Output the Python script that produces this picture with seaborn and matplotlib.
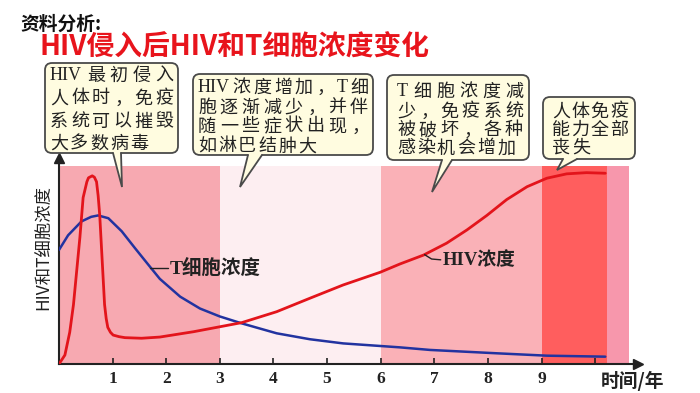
import re
import pandas as pd
import matplotlib
matplotlib.use("Agg")
import matplotlib.pyplot as plt
from matplotlib.patches import FancyBboxPatch, Polygon
import seaborn as sns

# === 1. Values ===
hiv_years = [0, 0.11, 0.2, 0.27, 0.33, 0.39, 0.45, 0.52, 0.55, 0.62, 0.66, 0.70, 0.73,
             0.76, 0.81, 0.85, 0.88, 0.91, 0.96, 1.01, 1.12, 1.23, 1.54, 1.88, 2.51, 3.0,
             3.41, 4.06, 4.68, 5.3, 5.99, 6.36, 6.8, 7.23, 7.61, 7.98, 8.35, 8.73, 9.1,
             9.47, 9.84, 10.19]
hiv_level = [0, 4.5, 16, 30, 47, 64, 84, 92, 94, 95, 94.3, 92, 85,
             75, 50, 30, 23, 18.5, 16, 14.6, 13.8, 13.3, 13, 13.6, 16.3, 18.8,
             20.9, 26.4, 33.2, 39.9, 46.3, 50.5, 55, 61, 67.7, 75, 83, 89.5, 93.8,
             96, 96.6, 96.3]

tcell_years = [0, 0.17, 0.42, 0.6, 0.73, 0.92, 1.17, 1.42, 1.67, 1.88, 2.26, 2.63, 3.0,
               3.41, 4.06, 4.68, 5.3, 5.99, 6.36, 6.92, 8.17, 9.1, 10.19]
tcell_level = [57.6, 65, 72, 74.3, 75, 73.6, 67, 58.4, 50, 43, 34, 28, 24,
               20.5, 15.5, 12.5, 10.4, 9.1, 8.4, 7.1, 5.4, 4.2, 3.7]

stage_edges = [0, 3, 6, 9, 10.22, 10.63]
stage_colors = ["#F7A9B1", "#FDEEF1", "#FAB1B7", "#FF5E5E", "#F797AC"]

tick_years = [1, 2, 3, 4, 5, 6, 7, 8, 9, 10]
tick_labels = ["1", "2", "3", "4", "5", "6", "7", "8", "9", ""]

callout_texts = [
    ["HIV最初侵入", "人体时，免疫", "系统可以摧毁", "大多数病毒"],
    ["HIV浓度增加，T细", "胞逐渐减少，并伴", "随一些症状出现，", "如淋巴结肿大"],
    ["T细胞浓度减", "少，免疫系统", "被破坏，各种", "感染机会增加"],
    ["人体免疫", "能力全部", "丧失"],
]

# callout layout in figure pixels: box, pointer base, pointer tip, text left/right, line y's
callout_layout = [
    dict(box=(45, 63, 178, 153), base=(113, 121), tip=(122, 187), tx=50, rx=173,
         ly=[76, 99, 122, 144]),
    dict(box=(193, 74, 373, 155), base=(248, 262), tip=(240, 187), tx=198, rx=368,
         ly=[88, 108, 127, 147]),
    dict(box=(387, 75, 529, 160), base=(442, 452), tip=(432, 192), tx=397, rx=523,
         ly=[92, 112, 131, 149]),
    dict(box=(543, 97, 635, 159), base=(563, 577), tip=(557, 170), tx=552, rx=628,
         ly=[112, 130, 148]),
]

RED = "#E3141B"
BLUE = "#2233A0"
INK = "#222222"
CJK = ["Noto Sans CJK SC", "DejaVu Sans"]
SERIF_CJK = ["Liberation Serif", "Noto Sans CJK SC", "DejaVu Sans"]

# === 2. Figure ===
sns.set_theme(style="white")
plt.rcParams["font.family"] = CJK

fig = plt.figure(figsize=(7, 3.93), dpi=100)
W, H = 700, 393
ax_left, ax_right, ax_bottom, ax_top = 59, 638, 364, 158
ax = fig.add_axes([ax_left / W, 1 - ax_bottom / H,
                   (ax_right - ax_left) / W, (ax_bottom - ax_top) / H])
ax.set_xlim(0, 10.8)
ax.set_ylim(0, 104)

# stage shading
for x0, x1, c in zip(stage_edges[:-1], stage_edges[1:], stage_colors):
    ax.axvspan(x0, x1, ymin=0, ymax=100 / 104, color=c, lw=0, zorder=0)

hiv_df = pd.DataFrame({"year": hiv_years, "level": hiv_level})
tcell_df = pd.DataFrame({"year": tcell_years, "level": tcell_level})
sns.lineplot(data=tcell_df, x="year", y="level", ax=ax, color=BLUE, lw=1.8,
             estimator=None, sort=False, zorder=3)
sns.lineplot(data=hiv_df, x="year", y="level", ax=ax, color=RED, lw=2.0,
             estimator=None, sort=False, zorder=4)

# curve labels with short leader lines
ax.plot([1.70, 2.04], [48.5, 48.5], color=INK, lw=1.0, zorder=5)
ax.text(2.06, 48.5, "T细胞浓度", family=SERIF_CJK, fontsize=14, fontweight="bold",
        color=INK, ha="left", va="center", zorder=5)
ax.plot([6.82, 6.95, 7.12], [55.2, 53.0, 52.6], color=INK, lw=1.0, zorder=5)
ax.text(7.15, 52.3, "HIV浓度", family=SERIF_CJK, fontsize=13.5, fontweight="bold",
        color=INK, ha="left", va="center", zorder=5)

# axes: only left and bottom, with arrow heads
for s in ["top", "right"]:
    ax.spines[s].set_visible(False)
for s in ["left", "bottom"]:
    ax.spines[s].set_color(INK)
    ax.spines[s].set_linewidth(1.5)
ax.plot(1, 0, ">", color=INK, ms=7, transform=ax.transAxes, clip_on=False)
ax.plot(0, 1, "^", color=INK, ms=7, transform=ax.transAxes, clip_on=False)

ax.set_xticks(tick_years)
ax.set_xticklabels(tick_labels, family="Liberation Serif", fontweight="bold", fontsize=12.5)
ax.set_yticks([])
ax.tick_params(axis="x", direction="in", length=4, width=1.2, color=INK, pad=5,
               labelcolor=INK, bottom=True)
ax.set_xlabel("")
ax.set_ylabel("")

# === 3. Overlay in pixel units for titles and callouts ===
ov = fig.add_axes([0, 0, 1, 1], zorder=10)
ov.set_xlim(0, W)
ov.set_ylim(H, 0)
ov.set_axis_off()

ov.text(20, 24, "资料分析:", fontsize=13.5, fontweight="bold", color="#111111",
        ha="left", va="center")
ov.text(39, 48, "HIV侵入后HIV和T细胞浓度变化", fontsize=20, fontweight="bold",
        color="#E8141C", ha="left", va="center")
ov.text(44, 248, "HIV和T细胞浓度", fontsize=12.5, color=INK, rotation=90,
        ha="center", va="center")
ov.text(633, 381, "时间/年", fontsize=13.5, fontweight="bold", color=INK,
        ha="center", va="center")

FILL = "#FFFCE0"
EDGE = "#4A4A4A"
BOX_FS = 13
EM = BOX_FS * 100 / 72
PITCH = 20
renderer = fig.canvas.get_renderer()

for lines, lay in zip(callout_texts, callout_layout):
    x0, y0, x1, y1 = lay["box"]
    ov.add_patch(FancyBboxPatch((x0, y0), x1 - x0, y1 - y0,
                                boxstyle="round,pad=0,rounding_size=7",
                                fc=FILL, ec=EDGE, lw=1.3, zorder=1))
    b0, b1 = lay["base"]
    tx, ty = lay["tip"]
    ov.add_patch(Polygon([(b0 + 0.6, y1 - 2), (b0 + 0.6, y1), (tx, ty),
                          (b1 - 0.6, y1), (b1 - 0.6, y1 - 2)],
                         closed=True, fc=FILL, ec="none", zorder=2))
    ov.plot([b0, tx, b1], [y1, ty, y1], color=EDGE, lw=1.3, zorder=3,
            solid_joinstyle="miter")

    # spaced out, justified lines like the original
    for i, (line, ly) in enumerate(zip(lines, lay["ly"])):
        tokens = re.findall(r"[A-Za-z]+|.", line)
        arts, widths = [], []
        for tok in tokens:
            t = ov.text(0, ly, tok, family=SERIF_CJK, fontsize=BOX_FS, color=INK,
                        ha="left", va="center", zorder=4)
            if tok.isascii():
                w = t.get_window_extent(renderer).width
            else:
                w = EM
            arts.append(t)
            widths.append(w)
        if i == len(lines) - 1:
            gap = PITCH - EM
        else:
            gap = (lay["rx"] - lay["tx"] - sum(widths)) / max(len(tokens) - 1, 1)
        x = lay["tx"]
        for tok, t, w in zip(tokens, arts, widths):
            if tok.isascii() or tok == "，":
                t.set_x(x + (0.08 * EM if tok == "，" else 0))
            else:
                t.set_x(x + w / 2)
                t.set_ha("center")
            x += w + gap

fig.savefig("out.png", dpi=100, facecolor="white")
